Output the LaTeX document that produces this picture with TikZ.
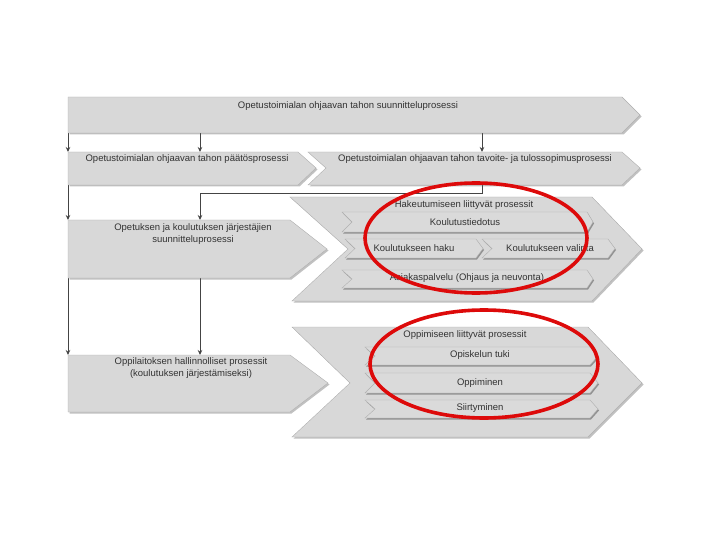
\documentclass[tikz,border=0pt]{standalone}
\usepackage{fontspec}
\setmainfont{Liberation Sans}
\usetikzlibrary{shadows,arrows.meta}
\definecolor{boxfill}{HTML}{D8D8D8}
\definecolor{barfill}{HTML}{DADADA}
\definecolor{boxline}{HTML}{B0B0B0}
\definecolor{txt}{HTML}{333333}
\definecolor{conn}{HTML}{444444}
\definecolor{ringred}{HTML}{DD0A0A}
\tikzset{
  box/.style={fill=boxfill, draw=boxline, line width=0.4pt,
    drop shadow={shadow xshift=1.5pt, shadow yshift=-1.5pt, opacity=0.35, fill=black!70}},
  bar/.style={fill=barfill, draw=boxline, line width=0.4pt,
    drop shadow={shadow xshift=1pt, shadow yshift=-1.5pt, opacity=0.5, fill=black!70}},
  lbl/.style={text=txt, font=\fontsize{9.5}{11.5}\selectfont, inner sep=0pt, align=center},
  conline/.style={draw=conn, line width=0.8pt},
  arr/.style={conline, -{Stealth[length=5pt,width=4.5pt]}},
  ring/.style={draw=ringred, line width=3.6pt},
}
\begin{document}
\begin{tikzpicture}[x=1pt,y=-1pt]
\useasboundingbox (0,0) rectangle (720,540);

% connectors (behind boxes)
\coordinate (t1) at (68,133);
\coordinate (t2) at (200,133);
\coordinate (t3) at (482,133);
\coordinate (a1) at (68,152);
\coordinate (a2) at (200,152);
\coordinate (b1) at (482,152);
\coordinate (bb) at (482,185);
\coordinate (c1) at (68,220);
\coordinate (c2) at (200,220);
\coordinate (cb) at (200,278);
\coordinate (ab) at (68,185);
\coordinate (cl) at (68,278);
\coordinate (d1) at (68,355);
\coordinate (d2) at (200,355);
\draw[arr] (t1) -- (a1);
\draw[arr] (t2) -- (a2);
\draw[arr] (t3) -- (b1);
\draw[arr] (ab) -- (c1);
\draw[arr] (bb) |- (200,193) -- (c2);
\draw[arr] (cl) -- (d1);
\draw[arr] (cb) -- (d2);

% top chevron
\path[box] (68,97) -- (622,97) -- (640,115) -- (622,133) -- (68,133) -- cycle;
\node[lbl] (ttop) at (348,106) {Opetustoimialan ohjaavan tahon suunnitteluprosessi};

% row 2
\path[box] (68,152) -- (298,152) -- (316,168) -- (298,185) -- (68,185) -- cycle;
\node[lbl] (tA) at (187,159) {Opetustoimialan ohjaavan tahon päätösprosessi};
\path[box] (308,152) -- (622,152) -- (640,168) -- (622,185) -- (308,185) -- (326,168) -- cycle;
\node[lbl] (tB) at (475,159) {Opetustoimialan ohjaavan tahon tavoite- ja tulossopimusprosessi};

% row 3
\path[box] (68,220) -- (290,220) -- (327,249) -- (290,278) -- (68,278) -- cycle;
\node[lbl] (tC) at (193,234) {Opetuksen ja koulutuksen järjestäjien\\suunnitteluprosessi};

% chevron E
\path[box] (290,197) -- (592,197) -- (642,249) -- (592,301) -- (292,301) -- (348,249) -- cycle;
\node[lbl] (tE) at (464,205) {Hakeutumiseen liittyvät prosessit};
\path[bar] (342,212) -- (587,212) -- (593,222) -- (587,232) -- (342,232) -- (352,222) -- cycle;
\node[lbl] (tE1) at (465,222) {Koulutustiedotus};
\path[bar] (345,239) -- (476,239) -- (483,248.5) -- (476,258) -- (345,258) -- (355,248.5) -- cycle;
\node[lbl] (tE2) at (414,248) {Koulutukseen haku};
\path[bar] (482,239) -- (608,239) -- (615,248.5) -- (608,258) -- (482,258) -- (492,248.5) -- cycle;
\node[lbl] (tE3) at (550,248) {Koulutukseen valinta};
\path[bar] (342,270) -- (587,270) -- (593,279) -- (587,288) -- (342,288) -- (352,279) -- cycle;
\node[lbl] (tE4) at (467,278) {Asiakaspalvelu (Ohjaus ja neuvonta)};

% row 4
\path[box] (68,355) -- (290,355) -- (328,383) -- (290,412) -- (68,412) -- cycle;
\node[lbl] (tD) at (191,368) {Oppilaitoksen hallinnolliset prosessit\\(koulutuksen järjestämiseksi)};

% chevron F
\path[box] (292,327) -- (588,327) -- (642,383) -- (588,437) -- (292,437) -- (350,383) -- cycle;
\node[lbl] (tF) at (465,335) {Oppimiseen liittyvät prosessit};
\path[bar] (365,347) -- (590,347) -- (598,356) -- (590,365) -- (365,365) -- (375,356) -- cycle;
\node[lbl] (tF1) at (480,355) {Opiskelun tuki};
\path[bar] (365,373) -- (590,373) -- (598,383) -- (590,393) -- (365,393) -- (375,383) -- cycle;
\node[lbl] (tF2) at (480,383) {Oppiminen};
\path[bar] (365,400) -- (590,400) -- (598,409) -- (590,418) -- (365,418) -- (375,409) -- cycle;
\node[lbl] (tF3) at (480,408) {Siirtyminen};

% red rings
\draw[ring] (476,238) ellipse [x radius=111, y radius=55];
\draw[ring] (484,364) ellipse [x radius=114, y radius=54];
\end{tikzpicture}
\end{document}
